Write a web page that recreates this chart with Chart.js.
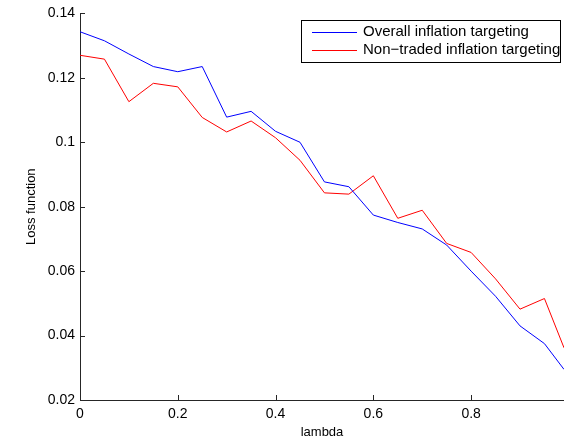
<!DOCTYPE html>
<html>
<head>
<meta charset="utf-8">
<script src="https://cdn.jsdelivr.net/npm/chart.js@4"></script>
<style>
  html, body { margin: 0; padding: 0; background: #fff; }
  #wrap { width: 564px; height: 440px; }
</style>
</head>
<body>
<div id="wrap"><canvas id="chart" width="564" height="440"></canvas></div>
<script>
const lambda = [0, 0.05, 0.1, 0.15, 0.2, 0.25, 0.3, 0.35, 0.4, 0.45, 0.5,
                0.55, 0.6, 0.65, 0.7, 0.75, 0.8, 0.85, 0.9, 0.95, 0.99]
const overall = [0.1343, 0.1315, 0.1274, 0.1235, 0.1219, 0.1235, 0.1078, 0.1096, 0.1034, 0.1000, 0.0877,
                 0.0862, 0.0774, 0.0751, 0.0731, 0.0681, 0.0600, 0.0522, 0.0430, 0.0375, 0.0295]
const nonTraded = [0.1270, 0.1258, 0.1126, 0.1183, 0.1172, 0.1077, 0.1032, 0.1066, 0.1014, 0.0944, 0.0843,
                   0.0839, 0.0896, 0.0764, 0.0789, 0.0686, 0.0658, 0.0576, 0.0482, 0.0515, 0.0362]
const seriesNames = ['Overall inflation targeting', 'Non\u2212traded inflation targeting']
const xTicks = [0, 0.2, 0.4, 0.6, 0.8]
const yTicks = [0.02, 0.04, 0.06, 0.08, 0.1, 0.12, 0.14]

const FONT = 'Liberation Sans, Arial, Helvetica, sans-serif'

function pairs(ys) {
    return lambda.map((x, i) => ({x: x, y: ys[i]}))
}

// matlab style: ticks point into the plot
const innerTicks = {
    id: 'innerTicks',
    afterDraw(chart) {
        const ctx = chart.ctx
        const a = chart.chartArea
        const xs = chart.scales.x, ys = chart.scales.y
        ctx.save()
        ctx.strokeStyle = '#262626'
        ctx.lineWidth = 1
        ctx.beginPath()
        xTicks.forEach(v => {
            const px = Math.round(xs.getPixelForValue(v)) + 0.5
            ctx.moveTo(px, a.bottom)
            ctx.lineTo(px, a.bottom - 5)
        })
        yTicks.forEach(v => {
            const py = Math.round(ys.getPixelForValue(v)) + 0.5
            ctx.moveTo(a.left, py)
            ctx.lineTo(a.left + 5, py)
        })
        ctx.stroke()
        ctx.restore()
    }
}

// boxed legend in the top right corner
const boxLegend = {
    id: 'boxLegend',
    afterDraw(chart) {
        const ctx = chart.ctx
        const colors = chart.data.datasets.map(d => d.borderColor)
        const bx = 301.5, by = 20.5, bw = 259, bh = 42
        ctx.save()
        ctx.fillStyle = '#fff'
        ctx.fillRect(bx, by, bw, bh)
        ctx.strokeStyle = '#000'
        ctx.lineWidth = 1
        ctx.strokeRect(bx, by, bw, bh)
        ctx.font = '15px ' + FONT
        ctx.textBaseline = 'middle'
        ctx.fillStyle = '#000'
        seriesNames.forEach((name, i) => {
            const y = 32 + i * 18
            ctx.strokeStyle = colors[i]
            ctx.beginPath()
            ctx.moveTo(312, y + 0.5)
            ctx.lineTo(357, y + 0.5)
            ctx.stroke()
            ctx.fillText(name, 363, y)
        })
        ctx.restore()
    }
}

new Chart(document.getElementById('chart'), {
    type: 'line',
    data: {
        datasets: [
            {label: seriesNames[0], data: pairs(overall), borderColor: '#0000ff', borderWidth: 1,
             pointRadius: 0, tension: 0, fill: false},
            {label: seriesNames[1], data: pairs(nonTraded), borderColor: '#ff0000', borderWidth: 1,
             pointRadius: 0, tension: 0, fill: false}
        ]
    },
    options: {
        responsive: false,
        animation: false,
        layout: {padding: {top: 12, right: 0, left: 0, bottom: 0}},
        plugins: {legend: {display: false}, tooltip: {enabled: false}},
        scales: {
            x: {
                type: 'linear',
                min: 0,
                max: 0.99,
                afterBuildTicks: s => { s.ticks = xTicks.map(v => ({value: v})) },
                afterFit: s => { s.height = 40 },
                grid: {display: false, drawTicks: false},
                border: {display: true, color: '#262626', width: 1},
                ticks: {color: '#000', font: {family: FONT, size: 14}, padding: 6,
                        maxRotation: 0, autoSkip: false,
                        callback: v => String(+v.toFixed(2))},
                title: {display: true, text: 'lambda', color: '#000',
                        font: {family: FONT, size: 13}, padding: {top: 0, bottom: 0}}
            },
            y: {
                min: 0.02,
                max: 0.14,
                afterBuildTicks: s => { s.ticks = yTicks.map(v => ({value: v})) },
                afterFit: s => { s.width = 80 },
                grid: {display: false, drawTicks: false},
                border: {display: true, color: '#262626', width: 1},
                ticks: {color: '#000', font: {family: FONT, size: 14}, padding: 5,
                        autoSkip: false,
                        callback: v => String(+v.toFixed(2))},
                title: {display: true, text: 'Loss function', color: '#000',
                        font: {family: FONT, size: 13}, padding: {top: 24, bottom: 0}}
            }
        }
    },
    plugins: [innerTicks, boxLegend]
})
</script>
</body>
</html>
